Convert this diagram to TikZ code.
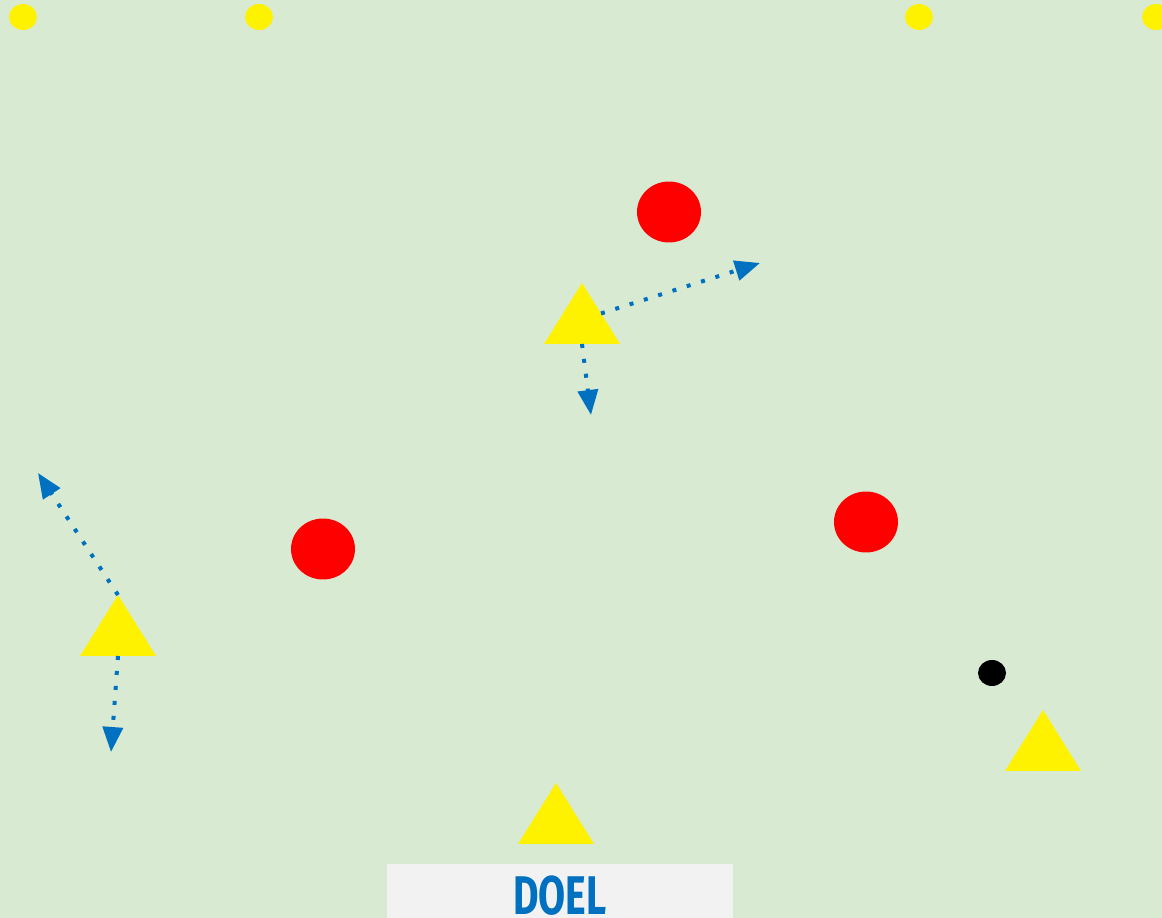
\documentclass[tikz,border=0pt]{standalone}
\usepackage{fontspec}
\newfontfamily\doelfont[FakeStretch=0.72]{Fira Sans}
\usepackage{tikz}
\usetikzlibrary{shapes.geometric,arrows.meta,calc}
\definecolor{veld}{HTML}{D9EAD3}
\definecolor{pijl}{HTML}{0070C0}
\definecolor{doelgrijs}{HTML}{F2F2F2}

\begin{document}
\begin{tikzpicture}[x=0.02cm,y=-0.02cm,>={Triangle[length=0.5cm,width=0.4cm]},
  pion/.style={ellipse,fill=yellow,inner sep=0,minimum width=0.56cm,minimum height=0.52cm},
  tegen/.style={ellipse,fill=red,inner sep=0,minimum width=1.28cm,minimum height=1.22cm},
  speler/.style={isosceles triangle,isosceles triangle stretches,shape border rotate=90,fill=yellow,inner sep=0,outer sep=0,minimum width=1.52cm,minimum height=1.22cm,anchor=apex},
  loop/.style={->,pijl,line width=0.08cm,dash pattern=on 0.08cm off 0.22cm}]
\fill[veld] (0,0) rectangle (1162,918);
\useasboundingbox (0,0) rectangle (1162,918);
% pionnen bovenaan
\node[pion] (c1) at (23,17) {};
\node[pion] (c2) at (259,17) {};
\node[pion] (c3) at (919,17) {};
\node[pion] (c4) at (1156,17) {};
% tegenstanders
\node[tegen] (r1) at (669,212) {};
\node[tegen] (r2) at (323,549) {};
\node[tegen] (r3) at (866,522) {};
% bal
\node[ellipse,fill=black,inner sep=0,minimum width=0.56cm,minimum height=0.52cm] (bal) at (992,673) {};
% spelers
\node[speler] (s1) at (582,283) {};
\node[speler] (s2) at (118,595) {};
\node[speler] (s3) at (1043,710) {};
\node[speler] (s4) at (556,783) {};
% doel
\node[fill=doelgrijs,anchor=north,minimum width=6.92cm,minimum height=1.24cm,inner sep=0,font=\doelfont\bfseries\fontsize{31}{31}\selectfont,text=pijl] (doel) at (560,864) {DOEL};
% looplijnen
\coordinate (e1) at (760,263);
\coordinate (e2) at (591,415);
\coordinate (e3) at (38,473);
\coordinate (e4) at (111,752);
\draw[loop] ($(s1.apex)!0.5!(s1.right corner)$) -- (e1);
\draw[loop] (s1.south) -- (e2);
\draw[loop] (s2.apex) -- (e3);
\draw[loop] (s2.south) -- (e4);
\end{tikzpicture}
\end{document}
